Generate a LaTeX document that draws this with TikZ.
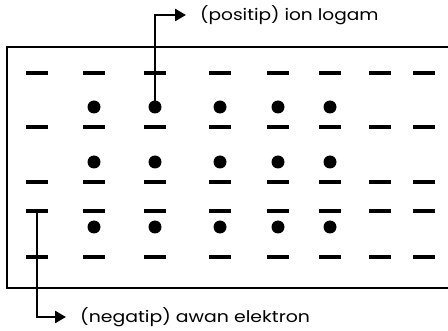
\documentclass[tikz,border=0pt]{standalone}
\usepackage{fontspec}
\setmainfont{Poppins}
\usetikzlibrary{arrows.meta}
\begin{document}
\begin{tikzpicture}[x=1pt,y=-1pt,
  dashbar/.style={rectangle,fill=black,inner sep=0pt,minimum width=22pt,minimum height=3.4pt},
  ion/.style={circle,fill=black,inner sep=0pt,minimum size=13pt},
  lbl/.style={anchor=west,inner sep=0pt,font=\fontsize{16}{18}\selectfont},
  conn/.style={line width=2.6pt,-{Triangle[length=11pt,width=12pt]},shorten >=14pt}]
\useasboundingbox (0,0) rectangle (448,331);
\fill[white] (0,0) rectangle (448,331);
% crystal box (open on the right)
\draw[line width=2.8pt] (448,47) -- (7,47) -- (7,288) -- (448,288);
% electron dashes
\foreach \r/\y in {1/73,2/127,3/182,4/211,5/257}{
  \foreach \c/\x in {1/37,2/94,3/155,4/220,5/278,6/330,7/380,8/424}{
    \node[dashbar] (e\r\c) at (\x,\y) {};
  }
}
% metal ions
\foreach \r/\y in {1/107,2/162,3/227}{
  \foreach \c/\x in {1/94,2/155,3/220,4/278,5/330}{
    \node[ion] (d\r\c) at (\x,\y) {};
  }
}
% labels
\node[lbl] (pos) at (200,15) {\scalebox{1.16}[1]{(positip) ion logam}};
\node[lbl] (neg) at (80,317) {\scalebox{1.18}[1]{(negatip) awan elektron}};
% connectors
\draw[conn] (d12.center) |- (pos.west);
\draw[conn] (e41.center) |- (neg.west);
\end{tikzpicture}
\end{document}
